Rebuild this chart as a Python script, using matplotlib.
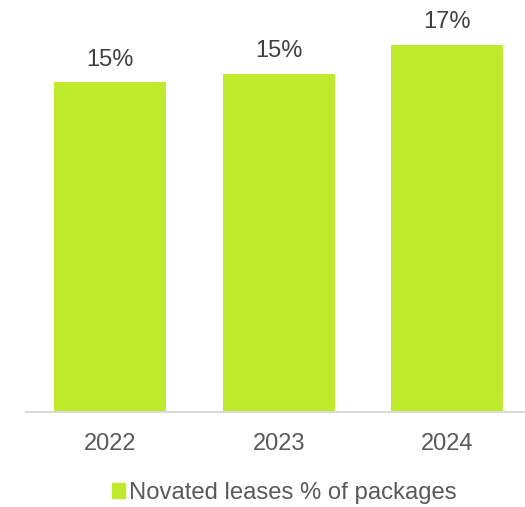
import matplotlib
matplotlib.use("Agg")
import matplotlib.pyplot as plt
from matplotlib.patches import Patch

# Novated lease share of salary packages by year
years = ["2022", "2023", "2024"]
share_pct = [15.0, 15.4, 16.7]
series_name = "Novated leases % of packages"

BAR = "#BEEA2B"
LABEL = "#404040"
TICK = "#595959"

plt.rcParams["font.family"] = ["Liberation Sans", "DejaVu Sans"]

W, H = 525, 507
fig = plt.figure(figsize=(W / 100, H / 100), dpi=100)
left_px, right_px = 25.7, 531.6
base_px = 412
ax = fig.add_axes([left_px / W, (H - base_px) / H, (right_px - left_px) / W, base_px / H])

x = range(len(years))
bars = ax.bar(x, share_pct, width=0.665, color=BAR, zorder=2)
ax.set_xlim(-0.5, len(years) - 0.5)
ax.set_ylim(0, 18.75)

for rect, v in zip(bars, share_pct):
    ax.annotate(f"{v:.0f}%", (rect.get_x() + rect.get_width() / 2, v),
                xytext=(0, 8.5), textcoords="offset points",
                ha="center", va="bottom", fontsize=17, color=LABEL)

ax.set_xticks(list(x))
ax.set_xticklabels(years, fontsize=17, color=TICK)
ax.tick_params(axis="x", length=0, pad=15)
ax.set_yticks([])
for side in ("top", "right", "left"):
    ax.spines[side].set_visible(False)
ax.spines["bottom"].set_color("#D9D9D9")
ax.spines["bottom"].set_linewidth(1.5)
ax.patch.set_alpha(0)

fig.legend(handles=[Patch(color=BAR, label=series_name)],
           loc="center", bbox_to_anchor=(284 / W, 1 - 493 / H),
           frameon=False, fontsize=17.2, labelcolor=TICK,
           handlelength=0.55, handleheight=0.55, handletextpad=0.15)

fig.savefig("out.png", dpi=100)
